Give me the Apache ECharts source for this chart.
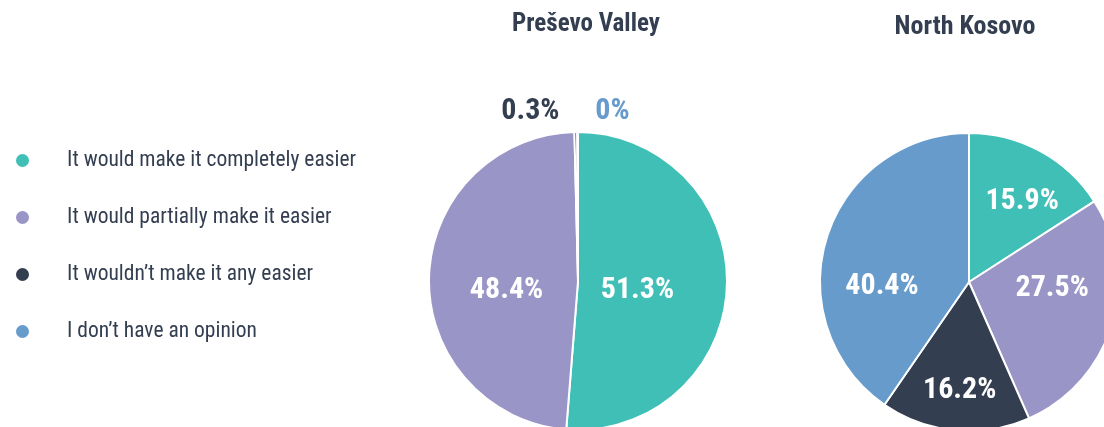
<!DOCTYPE html>
<html>
<head>
<meta charset="utf-8">
<script src="https://cdn.jsdelivr.net/npm/echarts@6/dist/echarts.min.js"></script>
<style>
html,body{margin:0;padding:0;background:#fff;}
#chart{width:1104px;height:427px;}
</style>
</head>
<body>
<div id="chart"></div>
<script>
// ---- data ----
const categories = [
  'It would make it completely easier',
  'It would partially make it easier',
  'It wouldn\u2019t make it any easier',
  'I don\u2019t have an opinion'
];
const presevoValues = [51.3, 48.4, 0.3, 0];
const kosovoValues = [15.9, 27.5, 16.2, 40.4];
const chartTitles = ['Pre\u0161evo Valley', 'North Kosovo'];

// ---- style ----
const colors = ['#40BFB7', '#9A95C7', '#333E50', '#669BCC'];
const FONT = "'Roboto Condensed', 'Open Sans', sans-serif";
const presevoLabelNudge = [[-18, 6], [6, 12], [0, 0], [68, 0]];
const presevoOutside = [false, false, true, true];
const kosovoLabelNudge = [[16, -12], [9, -16], [-2, 31], [-13, 28]];

function buildData(values, nudges, outside) {
  return categories.map((name, i) => {
    const item = { name: name, value: values[i], itemStyle: { color: colors[i] } };
    if (outside && outside[i]) {
      item.label = { position: 'outside', color: colors[i], offset: nudges[i] };
      item.labelLine = { show: false, length: 21, length2: 11 };
    } else if (nudges[i]) {
      item.label = { offset: nudges[i] };
    }
    return item;
  });
}

const chart = echarts.init(document.getElementById('chart'), null, { renderer: 'canvas' });

const pieBase = {
  type: 'pie',
  radius: 149,
  startAngle: 90,
  clockwise: true,
  avoidLabelOverlap: false,
  minShowLabelAngle: 0,
  itemStyle: { borderColor: '#ffffff', borderWidth: 2 },
  label: {
    show: true,
    position: 'inside',
    formatter: p => p.value + '%',
    color: '#ffffff',
    fontFamily: FONT,
    fontWeight: 'bold',
    fontSize: 30
  },
  emphasis: { disabled: true },
  animation: false
};

chart.setOption({
  animation: false,
  title: [
    { text: chartTitles[0], left: 581, top: 7, textAlign: 'center',
      textStyle: { fontFamily: FONT, fontWeight: 'bold', fontSize: 25, color: '#333E50' } },
    { text: chartTitles[1], left: 960, top: 9, textAlign: 'center',
      textStyle: { fontFamily: FONT, fontWeight: 'bold', fontSize: 26, color: '#333E50' } }
  ],
  legend: {
    orient: 'vertical',
    left: 9,
    top: 144,
    icon: 'circle',
    itemWidth: 15,
    itemHeight: 15,
    itemGap: 34,
    selectedMode: false,
    data: categories,
    textStyle: { fontFamily: FONT, fontSize: 21.5, color: '#333E50', lineHeight: 23, padding: [0, 0, 0, 32] }
  },
  series: [
    Object.assign({}, pieBase, {
      name: chartTitles[0],
      center: [578, 281],
      minAngle: 0.3, // keeps the zero slice (and its label) in the layout
      data: buildData(presevoValues, presevoLabelNudge, presevoOutside)
    }),
    Object.assign({}, pieBase, {
      name: chartTitles[1],
      center: [969, 282],
      data: buildData(kosovoValues, kosovoLabelNudge, null)
    })
  ]
});
</script>
</body>
</html>
